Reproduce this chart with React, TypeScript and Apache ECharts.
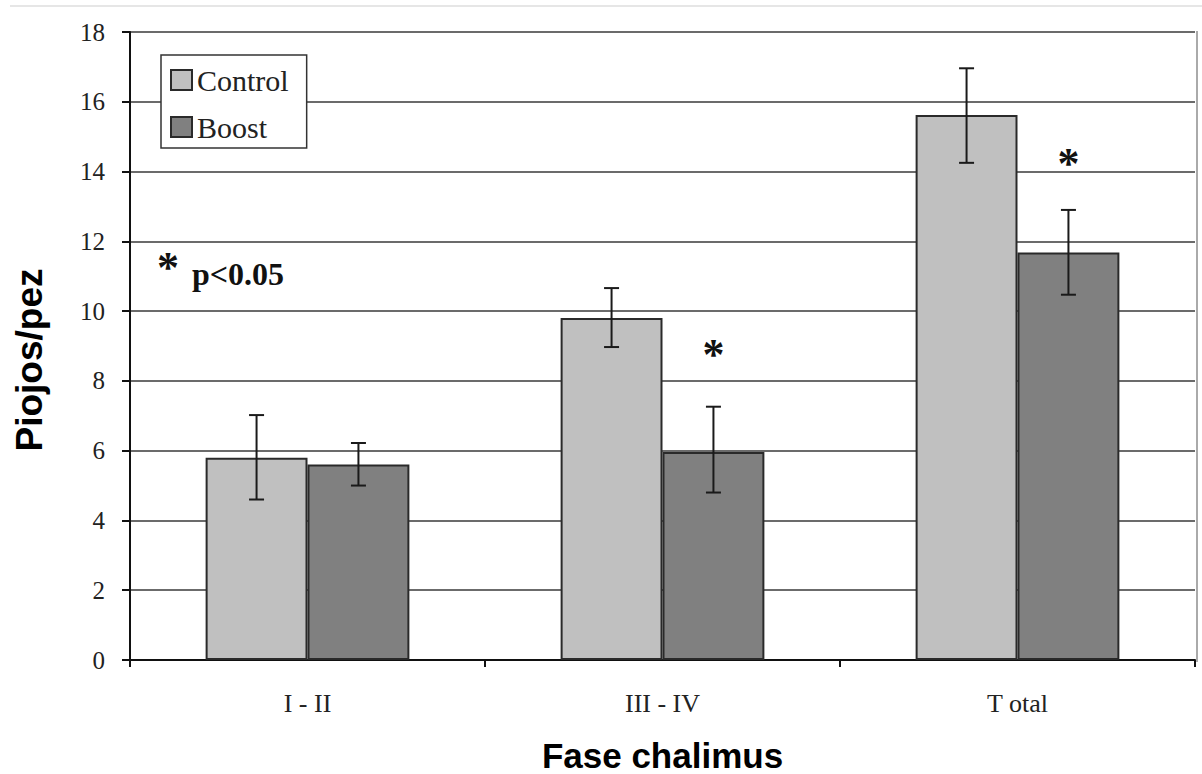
import React, { useEffect, useRef } from "react";
import * as echarts from "echarts";

const categories = ["I - II", "III - IV", "T otal"];
const seriesNames = ["Control", "Boost"];
const controlValues = [5.8, 9.8, 15.62];
const boostValues = [5.6, 5.96, 11.68];
const controlErrLow = [4.6, 8.97, 14.25];
const controlErrHigh = [7.02, 10.66, 16.96];
const boostErrLow = [5.0, 4.8, 10.47];
const boostErrHigh = [6.22, 7.26, 12.9];
// significance markers: [categoryIndex, seriesIndex, yValue]
const sigMarkers = [
  [1, 1, 8.77],
  [2, 1, 14.22],
];
const yTicks = { min: 0, max: 18, interval: 2 };
const noteStar = "*";
const noteText = "p<0.05";

const BAR_FRAC = 0.287;

export default function App() {
  const ref = useRef<HTMLDivElement>(null);
  useEffect(() => {
    document.body.style.margin = "0";
    const chart = echarts.init(ref.current!, null, { renderer: "svg" });
    const errData: any[] = [];
    categories.forEach((_, i) => {
      errData.push([i, 0, controlErrLow[i], controlErrHigh[i]]);
      errData.push([i, 1, boostErrLow[i], boostErrHigh[i]]);
    });
    const serif = "'Liberation Serif', 'Times New Roman', serif";
    const sans = "'Liberation Sans', Arial, sans-serif";
    chart.setOption({
      animation: false,
      backgroundColor: "#fff",
      grid: { left: 130, right: 7, top: 32, bottom: 114, containLabel: false, outerBoundsMode: "none" },
      legend: {
        data: seriesNames,
        orient: "vertical",
        left: 161,
        top: 55,
        backgroundColor: "#fff",
        borderColor: "#333",
        borderWidth: 1.5,
        borderRadius: 0,
        padding: [10, 18, 6, 9],
        itemGap: 17,
        itemWidth: 21,
        itemHeight: 20,
        icon: "rect",
        textStyle: { fontFamily: serif, fontSize: 30, color: "#222" },
      },
      xAxis: {
        type: "category",
        data: categories,
        name: "Fase chalimus",
        nameLocation: "middle",
        nameGap: 77,
        nameTextStyle: { fontFamily: sans, fontSize: 35, fontWeight: "bold", color: "#000", lineHeight: 36 },
        axisLine: { lineStyle: { color: "#111", width: 2 } },
        axisTick: { show: true, length: 7, lineStyle: { color: "#111", width: 2 } },
        axisLabel: { fontFamily: serif, fontSize: 26, color: "#222", margin: 30 },
      },
      yAxis: {
        type: "value",
        min: yTicks.min,
        max: yTicks.max,
        interval: yTicks.interval,
        name: "Piojos/pez",
        nameLocation: "middle",
        nameRotate: 90,
        nameGap: 82,
        nameTextStyle: {
          fontFamily: sans,
          fontSize: 37,
          fontWeight: "bold",
          color: "#000",
          padding: [0, 28, 0, 0],
        },
        axisLine: { show: true, lineStyle: { color: "#111", width: 2 } },
        axisTick: { show: true, length: 8, lineStyle: { color: "#111", width: 2 } },
        axisLabel: { fontFamily: serif, fontSize: 25, color: "#222", margin: 25 },
        splitLine: { show: true, lineStyle: { color: "#3a3a3a", width: 1.6 } },
      },
      graphic: [
        { type: "line", shape: { x1: 10, y1: 6, x2: 1202, y2: 6 }, style: { stroke: "#e6e6e6", lineWidth: 2 }, silent: true },
        { type: "line", shape: { x1: 1197, y1: 31, x2: 1197, y2: 662 }, style: { stroke: "#aaa", lineWidth: 2 }, silent: true },
        {
          type: "text",
          x: 168,
          y: 267,
          style: { text: noteStar, font: `bold 44px ${serif}`, fill: "#111", align: "center", verticalAlign: "middle" },
        },
        {
          type: "text",
          x: 192,
          y: 274,
          style: { text: noteText, font: `bold 32px ${serif}`, fill: "#111", align: "left", verticalAlign: "middle" },
        },
      ],
      series: [
        {
          name: seriesNames[0],
          type: "bar",
          data: controlValues,
          barWidth: BAR_FRAC * 100 + "%",
          barGap: "0%",
          itemStyle: { color: "#c0c0c0", borderColor: "#2a2a2a", borderWidth: 2 },
          z: 3,
        },
        {
          name: seriesNames[1],
          type: "bar",
          data: boostValues,
          barWidth: BAR_FRAC * 100 + "%",
          barGap: "0%",
          itemStyle: { color: "#808080", borderColor: "#2a2a2a", borderWidth: 2 },
          z: 3,
        },
        {
          type: "custom",
          name: "err",
          data: errData,
          z: 5,
          encode: { x: 0, y: [2, 3] },
          renderItem: (params: any, api: any) => {
            const ci = api.value(0);
            const si = api.value(1);
            const band = api.size([1, 0])[0];
            const bw = band * BAR_FRAC;
            const off = si === 0 ? -bw / 2 : bw / 2;
            const lo = api.coord([ci, api.value(2)]);
            const hi = api.coord([ci, api.value(3)]);
            const x = lo[0] + off;
            const cap = 7.5;
            const st = { stroke: "#1a1a1a", lineWidth: 2 };
            return {
              type: "group",
              children: [
                { type: "line", shape: { x1: x, y1: hi[1], x2: x, y2: lo[1] }, style: st },
                { type: "line", shape: { x1: x - cap, y1: hi[1], x2: x + cap, y2: hi[1] }, style: st },
                { type: "line", shape: { x1: x - cap, y1: lo[1], x2: x + cap, y2: lo[1] }, style: st },
              ],
            };
          },
        },
        {
          type: "custom",
          name: "sig",
          data: sigMarkers,
          z: 5,
          encode: { x: 0, y: 2 },
          renderItem: (params: any, api: any) => {
            const ci = api.value(0);
            const si = api.value(1);
            const band = api.size([1, 0])[0];
            const bw = band * BAR_FRAC;
            const off = si === 0 ? -bw / 2 : bw / 2;
            const p = api.coord([ci, api.value(2)]);
            return {
              type: "text",
              x: p[0] + off,
              y: p[1],
              style: {
                text: "*",
                font: `bold 44px ${serif}`,
                fill: "#111",
                align: "center",
                verticalAlign: "middle",
              },
            };
          },
        },
      ],
    });
    return () => chart.dispose();
  }, []);
  return <div ref={ref} style={{ width: 1202, height: 774 }} />;
}
